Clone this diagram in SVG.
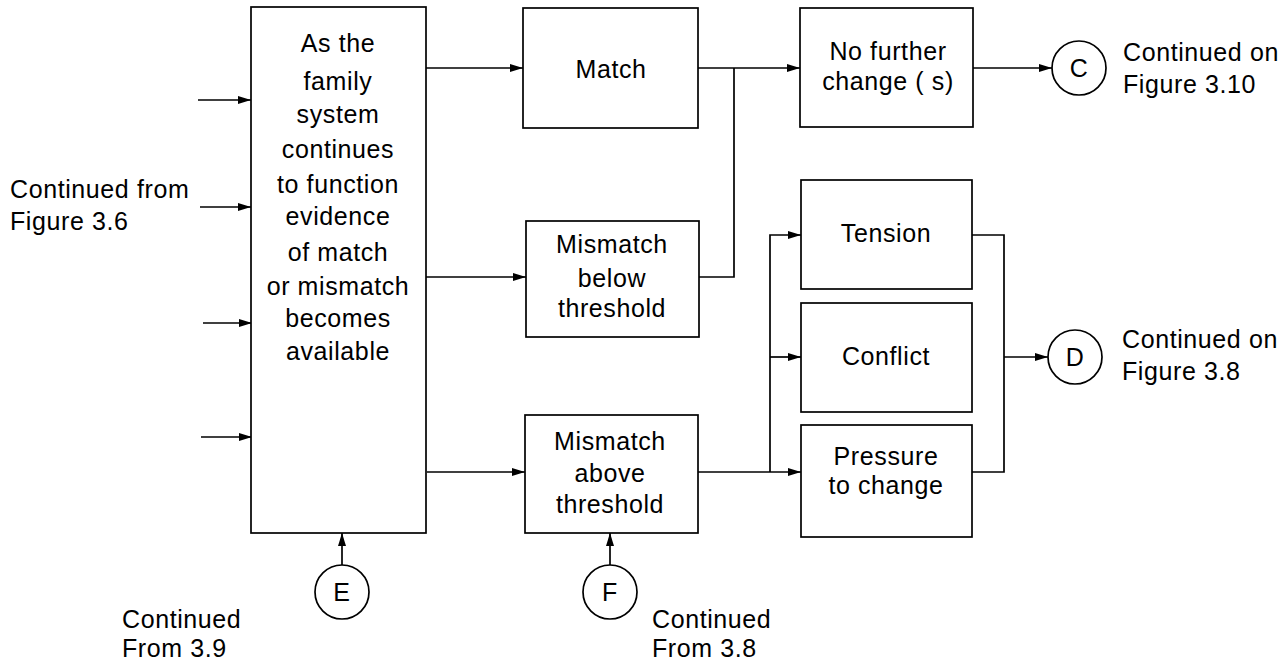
<svg xmlns="http://www.w3.org/2000/svg" width="1285" height="667" viewBox="0 0 1285 667">
  <style>
    .box { fill: #fff; stroke: #000; stroke-width: 1.7; }
    .conn { fill: none; stroke: #000; stroke-width: 1.7; }
    .arr { marker-end: url(#head); }
    text { font-family: "Liberation Sans", Arial, sans-serif; font-size: 25px; fill: #000; letter-spacing: 0.6px; }
    .c { text-anchor: middle; }
  </style>
  <defs>
    <marker id="head" markerUnits="userSpaceOnUse" markerWidth="14" markerHeight="10" refX="13" refY="5" orient="auto">
      <path d="M0,1 L13,5 L0,9 Z" fill="#000"/>
    </marker>
  </defs>

  <!-- connectors -->
  <g id="connectors">
    <!-- inputs into the family-system box -->
    <line class="conn arr" x1="198" y1="100" x2="251" y2="100"/>
    <line class="conn arr" x1="200" y1="207" x2="251" y2="207"/>
    <line class="conn arr" x1="203" y1="323" x2="252" y2="323"/>
    <line class="conn arr" x1="201" y1="437" x2="252" y2="437"/>
    <!-- outputs of the family-system box -->
    <line class="conn arr" x1="425" y1="68" x2="523" y2="68"/>
    <line class="conn arr" x1="426" y1="277" x2="526" y2="277"/>
    <line class="conn arr" x1="427" y1="472" x2="525" y2="472"/>
    <!-- match / below threshold to no further change -->
    <line class="conn arr" x1="698" y1="68" x2="800" y2="68"/>
    <polyline class="conn" points="699,277 734,277 734,68"/>
    <line class="conn arr" x1="973" y1="68" x2="1052" y2="68"/>
    <!-- above threshold fan-out -->
    <line class="conn arr" x1="698" y1="472" x2="801" y2="472"/>
    <polyline class="conn arr" points="770,472 770,235 801,235"/>
    <line class="conn arr" x1="770" y1="357" x2="801" y2="357"/>
    <!-- fan-in to D -->
    <polyline class="conn" points="972,235 1004,235 1004,472 972,472"/>
    <line class="conn arr" x1="1004" y1="357" x2="1048" y2="357"/>
    <!-- inbound connectors E and F -->
    <line class="conn arr" x1="342" y1="565" x2="342" y2="533"/>
    <line class="conn arr" x1="610" y1="565" x2="610" y2="533"/>
  </g>

  <g id="family-system">
    <rect class="box" x="251" y="7" width="175" height="526"/>
    <text class="c" x="338" y="52">As the</text>
    <text class="c" x="338" y="90">family</text>
    <text class="c" x="338" y="123">system</text>
    <text class="c" x="338" y="158">continues</text>
    <text class="c" x="338" y="193">to function</text>
    <text class="c" x="338" y="225">evidence</text>
    <text class="c" x="338" y="261">of match</text>
    <text class="c" x="338" y="295">or mismatch</text>
    <text class="c" x="338" y="327">becomes</text>
    <text class="c" x="338" y="360">available</text>
  </g>

  <g id="match">
    <rect class="box" x="523" y="8" width="175" height="120"/>
    <text class="c" x="611" y="78">Match</text>
  </g>

  <g id="mismatch-below">
    <rect class="box" x="526" y="221" width="173" height="116"/>
    <text class="c" x="612" y="253">Mismatch</text>
    <text class="c" x="612" y="287">below</text>
    <text class="c" x="612" y="317">threshold</text>
  </g>

  <g id="mismatch-above">
    <rect class="box" x="525" y="415" width="173" height="118"/>
    <text class="c" x="610" y="450">Mismatch</text>
    <text class="c" x="610" y="482">above</text>
    <text class="c" x="610" y="513">threshold</text>
  </g>

  <g id="no-further-change">
    <rect class="box" x="800" y="8" width="173" height="119"/>
    <text class="c" x="888" y="60">No further</text>
    <text class="c" x="888" y="90">change ( s)</text>
  </g>

  <g id="tension">
    <rect class="box" x="801" y="180" width="171" height="109"/>
    <text class="c" x="886" y="242">Tension</text>
  </g>

  <g id="conflict">
    <rect class="box" x="801" y="303" width="171" height="109"/>
    <text class="c" x="886" y="365">Conflict</text>
  </g>

  <g id="pressure">
    <rect class="box" x="801" y="425" width="171" height="112"/>
    <text class="c" x="886" y="465">Pressure</text>
    <text class="c" x="886" y="494">to change</text>
  </g>

  <g id="connector-c">
    <circle class="box" cx="1079" cy="68" r="27"/>
    <text class="c" x="1079" y="77">C</text>
    <text x="1123" y="61">Continued on</text>
    <text x="1123" y="93">Figure 3.10</text>
  </g>

  <g id="connector-d">
    <circle class="box" cx="1075" cy="357" r="27"/>
    <text class="c" x="1075" y="366">D</text>
    <text x="1122" y="348">Continued on</text>
    <text x="1122" y="380">Figure 3.8</text>
  </g>

  <g id="connector-e">
    <circle class="box" cx="342" cy="592" r="27"/>
    <text class="c" x="342" y="601">E</text>
    <text x="122" y="628">Continued</text>
    <text x="122" y="657">From 3.9</text>
  </g>

  <g id="connector-f">
    <circle class="box" cx="610" cy="592" r="27"/>
    <text class="c" x="610" y="601">F</text>
    <text x="652" y="628">Continued</text>
    <text x="652" y="657">From 3.8</text>
  </g>

  <g id="source-label">
    <text x="10" y="198">Continued from</text>
    <text x="10" y="230">Figure 3.6</text>
  </g>
</svg>
